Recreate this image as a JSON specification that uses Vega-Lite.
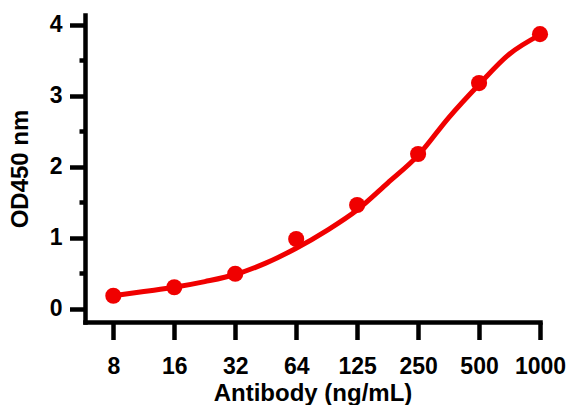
{
  "$schema": "https://vega.github.io/schema/vega-lite/v6.json",
  "width": 455,
  "height": 307,
  "autosize": "none",
  "padding": {"left": 85, "top": 15, "right": 28, "bottom": 83},
  "background": "white",
  "config": {
    "view": {"stroke": null},
    "axis": {
      "labelFont": "Liberation Sans",
      "titleFont": "Liberation Sans",
      "labelFontWeight": "bold",
      "titleFontWeight": "bold",
      "labelColor": "black",
      "titleColor": "black",
      "domainColor": "black",
      "tickColor": "black",
      "domainWidth": 4.5,
      "tickWidth": 4.5,
      "domainCap": "square",
      "grid": false
    }
  },
  "datasets": {
    "points": [
      {"conc": 7.8125, "od": 0.18},
      {"conc": 15.625, "od": 0.30},
      {"conc": 31.25, "od": 0.49},
      {"conc": 62.5, "od": 0.98},
      {"conc": 125, "od": 1.46},
      {"conc": 250, "od": 2.18},
      {"conc": 500, "od": 3.18},
      {"conc": 1000, "od": 3.87}
    ],
    "curve": [
      {"conc": 7.8125, "od": 0.18},
      {"conc": 11.05, "od": 0.24},
      {"conc": 15.625, "od": 0.30},
      {"conc": 22.1, "od": 0.38},
      {"conc": 31.25, "od": 0.48},
      {"conc": 44.19, "od": 0.64},
      {"conc": 62.5, "od": 0.85},
      {"conc": 88.39, "od": 1.10},
      {"conc": 125, "od": 1.39},
      {"conc": 176.78, "od": 1.77},
      {"conc": 250, "od": 2.16},
      {"conc": 353.55, "od": 2.69},
      {"conc": 500, "od": 3.16},
      {"conc": 707.1, "od": 3.59},
      {"conc": 1000, "od": 3.86}
    ]
  },
  "encoding": {
    "x": {
      "field": "conc",
      "type": "quantitative",
      "scale": {"type": "log", "base": 2, "domain": [5.66, 1000], "nice": false},
      "axis": {
        "values": [7.8125, 15.625, 31.25, 62.5, 125, 250, 500, 1000],
        "labelExpr": "datum.value < 100 ? format(pow(2, round(log(datum.value)/log(2))), 'd') : format(datum.value, 'd')",
        "tickSize": 17.5,
        "labelFontSize": 23,
        "labelPadding": 16,
        "labelFlush": false,
        "labelOverlap": false,
        "title": "Antibody (ng/mL)",
        "titleFontSize": 24,
        "titlePadding": 3
      }
    },
    "y": {
      "field": "od",
      "type": "quantitative",
      "scale": {"domain": [-0.19, 4.14], "nice": false, "zero": false},
      "axis": {
        "values": [0, 0.5, 1, 1.5, 2, 2.5, 3, 3.5, 4],
        "labelExpr": "datum.value % 1 === 0 ? format(datum.value, 'd') : ''",
        "tickSize": {"condition": {"test": "datum.value % 1 === 0", "value": 15.5}, "value": 6},
        "labelFontSize": 23,
        "labelPadding": 7.5,
        "labelFlush": false,
        "labelOverlap": false,
        "title": "OD450 nm",
        "titleFontSize": 24,
        "titlePadding": 17
      }
    }
  },
  "layer": [
    {
      "data": {"name": "curve"},
      "mark": {"type": "line", "interpolate": "monotone", "color": "#f00000", "strokeWidth": 5}
    },
    {
      "data": {"name": "points"},
      "mark": {"type": "circle", "size": 260, "color": "#f00000", "opacity": 1}
    }
  ]
}
